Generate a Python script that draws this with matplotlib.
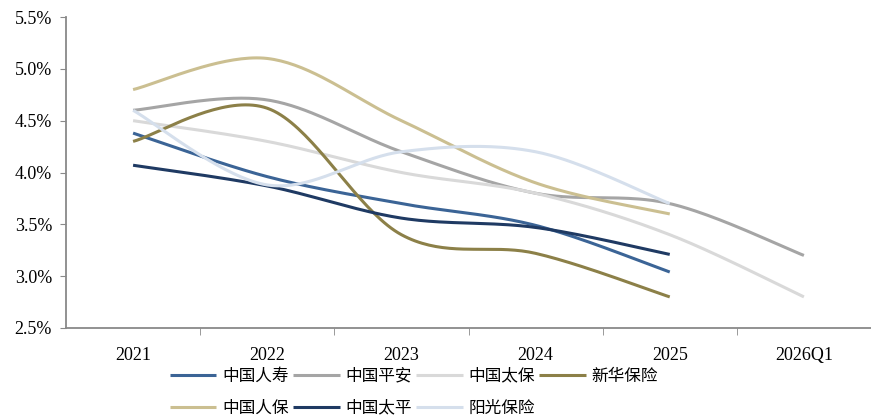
import numpy as np
import matplotlib
matplotlib.use("Agg")
import matplotlib.pyplot as plt
from matplotlib.ticker import FuncFormatter, FixedLocator

plt.rcParams['font.family'] = ['Liberation Serif', 'Noto Sans CJK SC']

years = ["2021", "2022", "2023", "2024", "2025", "2026Q1"]

# 各公司数据 (%)
renshou = [4.38, 3.96, 3.70, 3.49, 3.04]
pingan = [4.60, 4.70, 4.20, 3.80, 3.70, 3.20]
taibao = [4.50, 4.30, 4.00, 3.80, 3.40, 2.80]
xinhua = [4.30, 4.62, 3.40, 3.22, 2.80]
renbao = [4.80, 5.10, 4.50, 3.90, 3.60]
taiping = [4.07, 3.87, 3.56, 3.47, 3.21]
yangguang = [4.60, 3.88, 4.20, 4.20, 3.70]

names = ["中国人寿", "中国平安", "中国太保", "新华保险", "中国人保", "中国太平", "阳光保险"]
series = [renshou, pingan, taibao, xinhua, renbao, taiping, yangguang]
colors = ["#3B6496", "#A5A5A5", "#D9D9D9", "#8C8048", "#CBBF91", "#1F3A63", "#D5DFEC"]


def smooth(y, n=40):
    # excel style smoothed line: cubic bezier, catmull-rom control points
    y = np.asarray(y, dtype=float)
    x = np.arange(len(y), dtype=float)
    px = np.concatenate([[x[0]], x, [x[-1]]])
    py = np.concatenate([[y[0]], y, [y[-1]]])
    t = np.linspace(0, 1, n)
    xs, ys = [], []
    for i in range(len(y) - 1):
        p0 = np.array([px[i + 1], py[i + 1]])
        p3 = np.array([px[i + 2], py[i + 2]])
        c1 = p0 + (np.array([px[i + 2], py[i + 2]]) - np.array([px[i], py[i]])) / 6
        c2 = p3 - (np.array([px[i + 3], py[i + 3]]) - np.array([px[i + 1], py[i + 1]])) / 6
        b = ((1 - t) ** 3)[:, None] * p0 + (3 * (1 - t) ** 2 * t)[:, None] * c1 \
            + (3 * (1 - t) * t ** 2)[:, None] * c2 + (t ** 3)[:, None] * p3
        xs.append(b[:, 0])
        ys.append(b[:, 1])
    return np.concatenate(xs), np.concatenate(ys)


fig = plt.figure(figsize=(8.71, 4.18), dpi=100)
ax = fig.add_axes([66 / 871, 90 / 418, 805 / 871, 311 / 418])

handles = {}
for name, vals, c in zip(names, series, colors):
    xs, ys = smooth(vals)
    h, = ax.plot(xs, ys, color=c, lw=2.2, solid_capstyle='butt')
    handles[name] = h

ax.set_xlim(-0.5, 5.5)
ax.set_ylim(2.5, 5.5)
ax.set_yticks(np.arange(2.5, 5.51, 0.5))
ax.yaxis.set_major_formatter(FuncFormatter(lambda v, p: "%.1f%%" % v))
ax.set_xticks(range(len(years)))
ax.set_xticklabels(years)
ax.xaxis.set_minor_locator(FixedLocator(np.arange(0.5, 5.0, 1.0)))
ax.tick_params(axis='x', which='major', length=0, labelsize=13, pad=14)
ax.tick_params(axis='x', which='minor', length=5, color='#898989', direction='out')
ax.tick_params(axis='y', length=4, color='#898989', labelsize=13, pad=6)

for s in ['top', 'right']:
    ax.spines[s].set_visible(False)
for s in ['left', 'bottom']:
    ax.spines[s].set_color('#898989')
    ax.spines[s].set_linewidth(1.3)

order = ["中国人寿", "中国人保", "中国平安", "中国太平", "中国太保", "阳光保险", "新华保险"]
leg = fig.legend([handles[k] for k in order], order, loc='center', ncol=4,
                 bbox_to_anchor=(414 / 871, 26 / 418), frameon=False,
                 prop={'family': ['Noto Sans CJK SC'], 'size': 12},
                 handlelength=2.8, handletextpad=0.35, columnspacing=0.25,
                 labelspacing=0.9)

fig.savefig("out.png", dpi=100)
